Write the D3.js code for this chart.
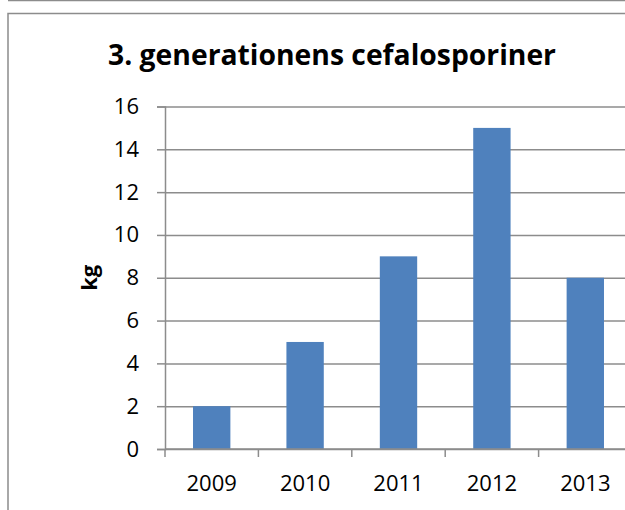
<!DOCTYPE html>
<html>
<head>
<meta charset="utf-8">
<script src="https://cdn.jsdelivr.net/npm/d3@7"></script>
<style>
  html, body { margin: 0; padding: 0; background: #fff; }
  svg { display: block; font-family: "Open Sans", sans-serif; }
</style>
</head>
<body>
<div id="chart"></div>
<script>
// data
const years = ["2009", "2010", "2011", "2012", "2013"];
const kg = [2, 5, 9, 15, 8];
const yTicks = [0, 2, 4, 6, 8, 10, 12, 14, 16];
const title = "3. generationens cefalosporiner";
const yLabel = "kg";

const width = 625, height = 510;
// plot area runs past the right edge, like the cropped original
const plot = { left: 165, right: 632, top: 106.5, bottom: 449 };
const gray = "#8c8c8c";
const labelSize = "22px";

const svg = d3.select("#chart").append("svg")
    .attr("width", width)
    .attr("height", height);

// bottom edge of the chart above, and this chart's frame
svg.append("line")
    .attr("x1", 8).attr("x2", width)
    .attr("y1", 0.5).attr("y2", 0.5)
    .attr("stroke", gray).attr("stroke-width", 1.5);
svg.append("path")
    .attr("d", `M8,${height}V13.5H${width + 40}`)
    .attr("fill", "none")
    .attr("stroke", gray).attr("stroke-width", 1.5);

const x = d3.scaleBand()
    .domain(years)
    .range([plot.left, plot.right])
    .paddingInner(0.6)
    .paddingOuter(0.3);

const y = d3.scaleLinear()
    .domain([0, 16])
    .range([plot.bottom, plot.top]);

// horizontal gridlines
svg.append("g")
    .attr("transform", `translate(${plot.left},0)`)
    .call(d3.axisLeft(y).tickValues(yTicks).tickSize(-(plot.right - plot.left)).tickFormat(""))
    .call(g => g.select(".domain").remove())
    .call(g => g.selectAll("line").attr("stroke", gray).attr("stroke-width", 1.5));

// bars
svg.append("g")
    .selectAll("rect")
    .data(kg)
    .enter().append("rect")
    .attr("x", (d, i) => x(years[i]))
    .attr("y", d => y(d))
    .attr("width", x.bandwidth())
    .attr("height", d => y(0) - y(d))
    .attr("fill", "#4f81bd");

// y axis
svg.append("g")
    .attr("transform", `translate(${plot.left},0)`)
    .call(d3.axisLeft(y).tickValues(yTicks).tickSize(8).tickPadding(18))
    .call(g => g.select(".domain").attr("stroke", gray).attr("stroke-width", 1.5))
    .call(g => g.selectAll(".tick line").attr("stroke", gray).attr("stroke-width", 1.5))
    .call(g => g.selectAll("text")
        .attr("font-family", "Open Sans")
        .attr("font-size", labelSize)
        .attr("fill", "#000"));

// x axis: labels at the bar centres, ticks between categories
svg.append("g")
    .attr("transform", `translate(0,${plot.bottom})`)
    .call(d3.axisBottom(x).tickSize(0).tickPadding(26.5))
    .call(g => g.select(".domain").remove())
    .call(g => g.selectAll("text")
        .attr("font-family", "Open Sans")
        .attr("font-size", labelSize)
        .attr("fill", "#000"));

const gap = (x.step() - x.bandwidth()) / 2;
const bounds = years.map(d => x(d) - gap).concat([plot.right]);

svg.append("line")
    .attr("x1", plot.left).attr("x2", plot.right)
    .attr("y1", y(0)).attr("y2", y(0))
    .attr("stroke", gray).attr("stroke-width", 1.5);

svg.append("g")
    .selectAll("line")
    .data(bounds)
    .enter().append("line")
    .attr("x1", d => d).attr("x2", d => d)
    .attr("y1", y(0)).attr("y2", y(0) + 8)
    .attr("stroke", gray).attr("stroke-width", 1.5);

// title and axis title
svg.append("text")
    .attr("x", 332)
    .attr("y", 65)
    .attr("text-anchor", "middle")
    .attr("font-size", "28.3px")
    .attr("font-weight", "bold")
    .text(title);

svg.append("text")
    .attr("transform", `translate(97,${(plot.top + plot.bottom) / 2})rotate(-90)`)
    .attr("text-anchor", "middle")
    .attr("font-size", labelSize)
    .attr("font-weight", "bold")
    .text(yLabel);
</script>
</body>
</html>
